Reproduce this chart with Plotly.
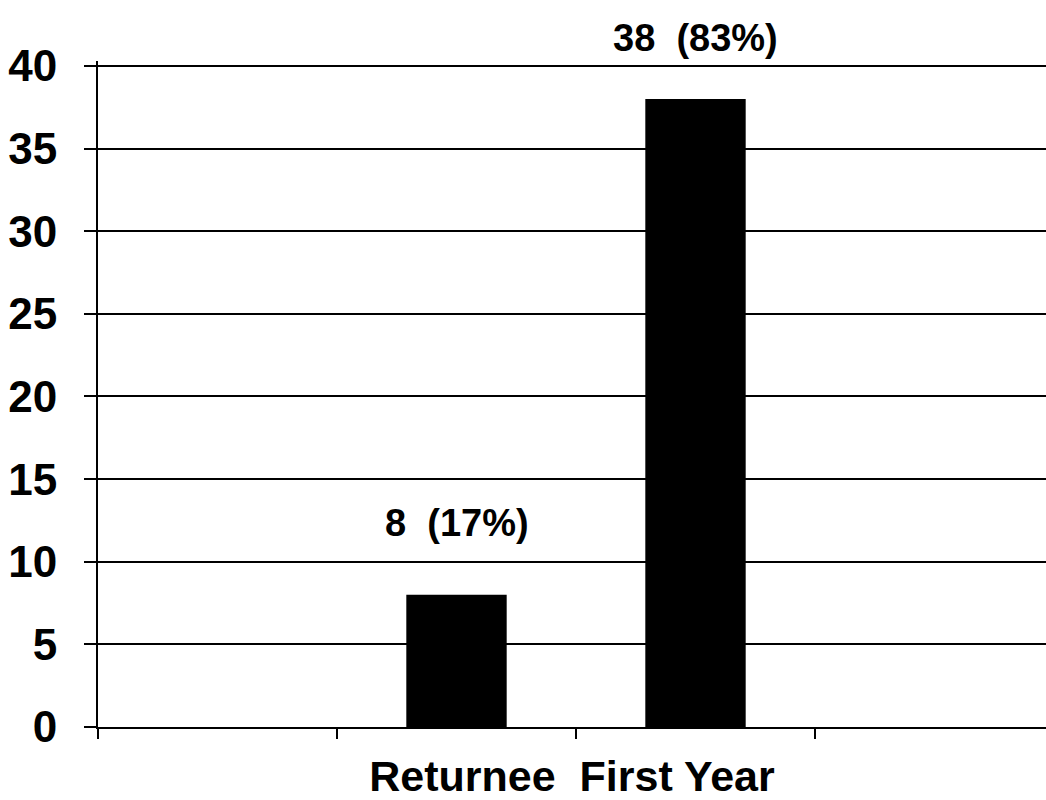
import plotly.graph_objects as go

# Data
categories = ["Returnee", "First Year"]
counts = [8, 38]
percents = [17, 83]
y_ticks = [0, 5, 10, 15, 20, 25, 30, 35, 40]
x_title = "Returnee  First Year"

positions = list(range(len(categories)))
labels = [f"{c}  ({p}%)" for c, p in zip(counts, percents)]

FONT = "Liberation Sans, Arial, Helvetica, sans-serif"

fig = go.Figure()
fig.add_trace(go.Bar(
    x=positions,
    y=counts,
    width=0.42,
    marker=dict(color="black", line=dict(width=0)),
    hovertext=categories,
    showlegend=False,
))

shifts = [72, 61]
for xp, yv, lab, sh in zip(positions, counts, labels, shifts):
    fig.add_annotation(x=xp, y=yv, text=lab, showarrow=False,
                       yanchor="middle", yshift=sh,
                       font=dict(family=FONT, size=38, color="black", weight="bold"))

fig.update_layout(
    width=1046, height=800,
    margin=dict(l=98, r=0, t=61, b=73),
    paper_bgcolor="white", plot_bgcolor="white",
    xaxis=dict(
        range=[-1.5, -1.5 + 948 / 239],
        tickvals=[-1.5, -0.5, 0.5, 1.5, 2.5],
        showticklabels=False,
        ticks="outside", ticklen=10, tickwidth=2, tickcolor="black",
        showgrid=False, zeroline=False,
        showline=True, linecolor="black", linewidth=2,
        automargin=False,
        title=dict(text=x_title, standoff=24,
                   font=dict(family=FONT, size=43, color="black", weight="bold")),
    ),
    yaxis=dict(
        range=[0, 40.3],
        tickvals=y_ticks,
        ticks="outside", ticklen=12, tickwidth=2, tickcolor="black",
        showgrid=True, gridcolor="black", gridwidth=2,
        zeroline=False,
        showline=True, linecolor="black", linewidth=2,
        automargin=False,
        ticklabelstandoff=18,
        tickfont=dict(family=FONT, size=44, color="black", weight="bold"),
    ),
)

fig.write_html("out.html",
               config={"displayModeBar": False},
               post_script="document.body.style.margin='0';document.body.style.overflow='hidden';")
